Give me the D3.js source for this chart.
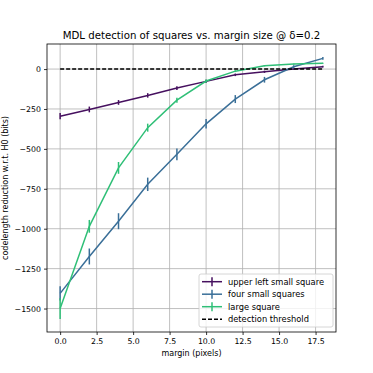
<!DOCTYPE html>
<html><head><meta charset="utf-8">
<script src="https://cdn.jsdelivr.net/npm/d3@7"></script>
<style>body{margin:0;background:#fff}svg{display:block}text{font-family:"DejaVu Sans",sans-serif}</style>
</head><body><svg id="c" width="373" height="373"></svg>
<script>
const margins = [0, 2, 4, 6, 8, 10, 12, 14, 16, 18];
const upperLeft = [-295, -253, -209, -165, -119, -77, -36, -17, 0, 15];
const upperLeftErr = [20, 18, 15, 14, 12, 10, 8, 7, 6, 5];
const fourSmall = [-1405, -1174, -953, -722, -534, -343, -188, -67, 14, 67];
const fourSmallErr = [45, 50, 50, 42, 37, 30, 25, 18, 10, 8];
const large = [-1500, -985, -619, -367, -195, -75, -13, 21, 31, 36];
const largeErr = [65, 40, 37, 25, 16, 10, 6, 4, 3, 3];
const xTicks = [0, 2.5, 5, 7.5, 10, 12.5, 15, 17.5];
const yTicks = [0, -250, -500, -750, -1000, -1250, -1500];
const seriesNames = ["upper left small square", "four small squares", "large square"];
const colors = ["#46105f", "#3a6f98", "#2fbf77"];

const svg = d3.select("#c");
const L = 47, R = 336, T = 44, B = 332;
const x = d3.scaleLinear().domain([-0.9, 18.9]).range([L, R]);
const lo = -1565, hi = 75, pad = (hi - lo) * 0.05;
const y = d3.scaleLinear().domain([lo - pad, hi + pad]).range([B, T]);

// grid
svg.append("g").selectAll("line").data(xTicks).join("line")
  .attr("x1", d => x(d)).attr("x2", d => x(d)).attr("y1", T).attr("y2", B)
  .attr("stroke", "#b0b0b0").attr("stroke-opacity", 0.8).attr("stroke-width", 1);
svg.append("g").selectAll("line").data(yTicks).join("line")
  .attr("y1", d => y(d)).attr("y2", d => y(d)).attr("x1", L).attr("x2", R)
  .attr("stroke", "#b0b0b0").attr("stroke-opacity", 0.8).attr("stroke-width", 1);

const series = [
  {name: seriesNames[0], v: upperLeft, e: upperLeftErr, c: colors[0]},
  {name: seriesNames[1], v: fourSmall, e: fourSmallErr, c: colors[1]},
  {name: seriesNames[2], v: large, e: largeErr, c: colors[2]}
];
const line = d3.line().x(d => x(d[0])).y(d => y(d[1]));
series.forEach(s => {
  const pts = margins.map((m, i) => [m, s.v[i], s.e[i]]);
  svg.append("path").attr("d", line(pts)).attr("fill", "none")
    .attr("stroke", s.c).attr("stroke-width", 1.5);
  svg.append("g").selectAll("line").data(pts).join("line")
    .attr("x1", d => x(d[0])).attr("x2", d => x(d[0]))
    .attr("y1", d => y(d[1] - d[2])).attr("y2", d => y(d[1] + d[2]))
    .attr("stroke", s.c).attr("stroke-width", 1.5);
});
// threshold
svg.append("line").attr("x1", x(0)).attr("x2", x(18)).attr("y1", y(0)).attr("y2", y(0))
  .attr("stroke", "#000").attr("stroke-width", 1.5).attr("stroke-dasharray", "4,2");

// frame
svg.append("rect").attr("x", L).attr("y", T).attr("width", R - L).attr("height", B - T)
  .attr("fill", "none").attr("stroke", "#000").attr("stroke-width", 0.8);

// axes
const xa = svg.append("g").attr("transform", `translate(0,${B})`)
  .call(d3.axisBottom(x).tickValues(xTicks).tickFormat(d3.format(".1f")).tickSize(3).tickPadding(3));
const ya = svg.append("g").attr("transform", `translate(${L},0)`)
  .call(d3.axisLeft(y).tickValues(yTicks).tickFormat(d => d3.format("d")(d).replace("-", "\u2212")).tickSize(3).tickPadding(3));
[xa, ya].forEach(a => {
  a.select(".domain").remove();
  a.selectAll("text").attr("font-size", 7.8).attr("fill", "#000").style("font-family", "DejaVu Sans");
  a.selectAll("line").attr("stroke", "#000").attr("stroke-width", 0.8);
});

// title and labels
svg.append("text").attr("x", (L + R) / 2).attr("y", 38.5).attr("text-anchor", "middle")
  .attr("font-size", 10.2).text("MDL detection of squares vs. margin size @ \u03b4=0.2");
svg.append("text").attr("x", (L + R) / 2).attr("y", 356).attr("text-anchor", "middle")
  .attr("font-size", 8).text("margin (pixels)");
svg.append("text").attr("transform", `translate(7.5,${(T + B) / 2}) rotate(-90)`).attr("text-anchor", "middle")
  .attr("font-size", 8).text("codelength reduction w.r.t. H0 (bits)");

// legend
const lg = svg.append("g");
lg.append("rect").attr("x", 199).attr("y", 274).attr("width", 134).attr("height", 53).attr("rx", 2)
  .attr("fill", "#fff").attr("fill-opacity", 0.8).attr("stroke", "#ccc").attr("stroke-width", 0.8);
const entries = series.map(s => ({name: s.name, c: s.c, dash: null, err: true}))
  .concat([{name: "detection threshold", c: "#000", dash: "4,2", err: false}]);
entries.forEach((e, i) => {
  const yy = 281.7 + i * 12.5;
  lg.append("line").attr("x1", 202).attr("x2", 222).attr("y1", yy).attr("y2", yy)
    .attr("stroke", e.c).attr("stroke-width", 1.5).attr("stroke-dasharray", e.dash);
  if (e.err) lg.append("line").attr("x1", 212).attr("x2", 212).attr("y1", yy - 4.5).attr("y2", yy + 4.5)
    .attr("stroke", e.c).attr("stroke-width", 1.5);
  lg.append("text").attr("x", 228).attr("y", yy + 2.9).attr("font-size", 8.3).text(e.name);
});
</script></body></html>
